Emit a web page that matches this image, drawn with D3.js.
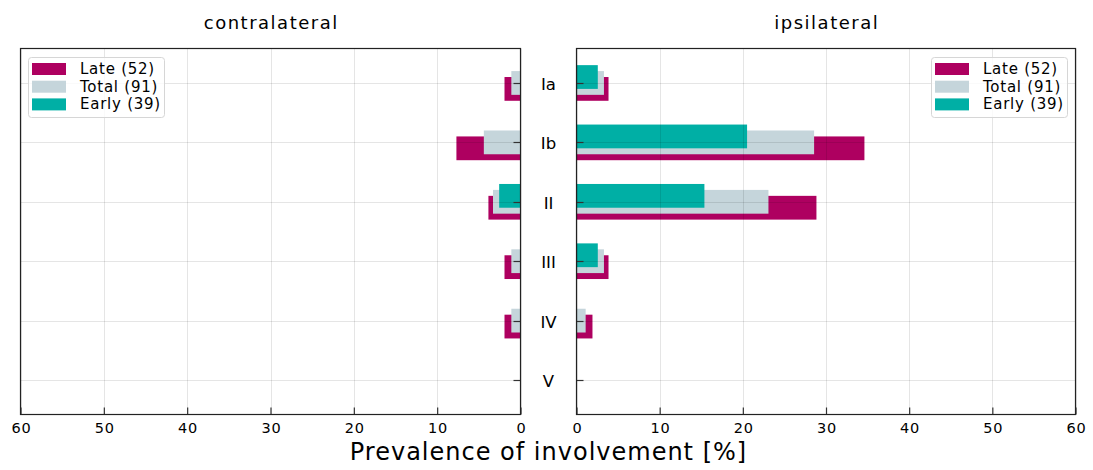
<!DOCTYPE html>
<html>
<head>
<meta charset="utf-8">
<script src="https://cdn.jsdelivr.net/npm/d3@7"></script>
<style>
  html, body { margin: 0; padding: 0; background: #fff; }
  svg { display: block; font-family: "DejaVu Sans", sans-serif; }
</style>
</head>
<body>
<svg id="chart" width="1093" height="470"></svg>
<script>
// Lymph node levels (y categories)
const levels = ["Ia", "Ib", "II", "III", "IV", "V"];

// Prevalence of involvement [%], ipsilateral side
const ipsiLate  = [3.85, 34.62, 28.85, 3.85, 1.92, 0];
const ipsiTotal = [3.30, 28.57, 23.08, 3.30, 1.10, 0];
const ipsiEarly = [2.56, 20.51, 15.38, 2.56, 0, 0];

// Prevalence of involvement [%], contralateral side
const contraLate  = [1.92, 7.69, 3.85, 1.92, 1.92, 0];
const contraTotal = [1.10, 4.40, 3.30, 1.10, 1.10, 0];
const contraEarly = [0, 0, 2.56, 0, 0, 0];

// Series labels and tick values
const seriesNames = ["Late (52)", "Total (91)", "Early (39)"];
const seriesColors = ["#ae0060", "#c5d5db", "#00afa5"];
const xTicks = [0, 10, 20, 30, 40, 50, 60];

const svg = d3.select("#chart");
const plotTop = 48.5, plotBottom = 414.5;

const y = d3.scaleLinear().domain([-0.58, 5.58]).range([plotTop, plotBottom]);
const barH = y(0.4) - y(0);
const shift = y(0.1) - y(0);

const panels = [
  { title: "contralateral", x0: 20.5, x1: 520.5, reverse: true,
    series: [contraLate, contraTotal, contraEarly], legendX: 28 },
  { title: "ipsilateral", x0: 576.5, x1: 1075.5, reverse: false,
    series: [ipsiLate, ipsiTotal, ipsiEarly], legendX: 931 }
];

panels.forEach(p => {
  const x = d3.scaleLinear().domain([0, 60])
    .range(p.reverse ? [p.x1, p.x0] : [p.x0, p.x1]);
  const g = svg.append("g");

  // bars: late (lowest), total, early (highest), drawn back to front
  const offsets = [shift, 0, -shift];
  p.series.forEach((vals, si) => {
    g.append("g").selectAll("rect").data(vals).join("rect")
      .attr("x", d => Math.min(x(0), x(d)))
      .attr("width", d => Math.abs(x(d) - x(0)))
      .attr("y", (d, i) => y(i) + offsets[si] - barH / 2)
      .attr("height", barH)
      .attr("fill", seriesColors[si]);
  });

  // grid on top of bars
  const grid = g.append("g").attr("stroke", "#000").attr("stroke-opacity", 0.1).attr("stroke-width", 1);
  grid.selectAll("line.v").data(xTicks).join("line")
    .attr("x1", d => Math.round(x(d)) + 0.5).attr("x2", d => Math.round(x(d)) + 0.5)
    .attr("y1", plotTop).attr("y2", plotBottom);
  grid.selectAll("line.h").data(levels).join("line")
    .attr("x1", p.x0).attr("x2", p.x1)
    .attr("y1", (d, i) => Math.round(y(i)) + 0.5).attr("y2", (d, i) => Math.round(y(i)) + 0.5);

  // y ticks, inward on the side facing the centre
  const yEdge = p.reverse ? p.x1 : p.x0;
  const dir = p.reverse ? -1 : 1;
  g.append("g").selectAll("line").data(levels).join("line")
    .attr("x1", yEdge).attr("x2", yEdge + dir * 7)
    .attr("y1", (d, i) => Math.round(y(i)) + 0.5).attr("y2", (d, i) => Math.round(y(i)) + 0.5)
    .attr("stroke", "#333").attr("stroke-width", 1.2);

  // bottom axis with inward ticks
  const ax = g.append("g").attr("transform", `translate(0,${plotBottom})`)
    .call(d3.axisBottom(x).tickValues(xTicks).tickFormat(d3.format("d")).tickSizeInner(-7).tickSizeOuter(0).tickPadding(5));
  ax.select(".domain").remove();
  ax.selectAll(".tick line").attr("stroke", "#333").attr("stroke-width", 1.2);
  ax.selectAll(".tick text")
    .attr("font-size", 14.5).attr("font-family", "DejaVu Sans")
    .attr("letter-spacing", 0.8).attr("fill", "#000")
    .attr("y", 18).attr("dy", 0).attr("dx", 0.4);

  // frame
  g.append("rect").attr("x", p.x0).attr("y", plotTop)
    .attr("width", p.x1 - p.x0).attr("height", plotBottom - plotTop)
    .attr("fill", "none").attr("stroke", "#222").attr("stroke-width", 1.2);

  // title
  svg.append("text").attr("x", (p.x0 + p.x1) / 2 + 0.75).attr("y", 29)
    .attr("text-anchor", "middle").attr("font-size", 18)
    .attr("letter-spacing", 1.5).text(p.title);

  // legend
  const lg = svg.append("g").attr("transform", `translate(${p.legendX},57)`);
  lg.append("rect").attr("x", 0.5).attr("y", 0.5).attr("width", 136).attr("height", 60)
    .attr("rx", 3).attr("fill", "#fff").attr("fill-opacity", 0.8)
    .attr("stroke", "#d6d6d6").attr("stroke-width", 1);
  seriesNames.forEach((name, i) => {
    lg.append("rect").attr("x", 4).attr("y", 6 + i * 17.7).attr("width", 34).attr("height", 12)
      .attr("fill", seriesColors[i]);
    lg.append("text").attr("x", 52).attr("y", 17 + i * 17.7)
      .attr("font-size", 15).attr("letter-spacing", 0.75).text(name);
  });
});

// level labels between the panels
svg.append("g").selectAll("text").data(levels).join("text")
  .attr("x", 548.5).attr("y", (d, i) => y(i))
  .attr("dy", "0.42em").attr("text-anchor", "middle")
  .attr("font-size", 16.5).text(d => d);

// shared x label
svg.append("text").attr("x", 548.5).attr("y", 459.5)
  .attr("text-anchor", "middle").attr("font-size", 24)
  .attr("letter-spacing", 1).text("Prevalence of involvement [%]");
</script>
</body>
</html>
